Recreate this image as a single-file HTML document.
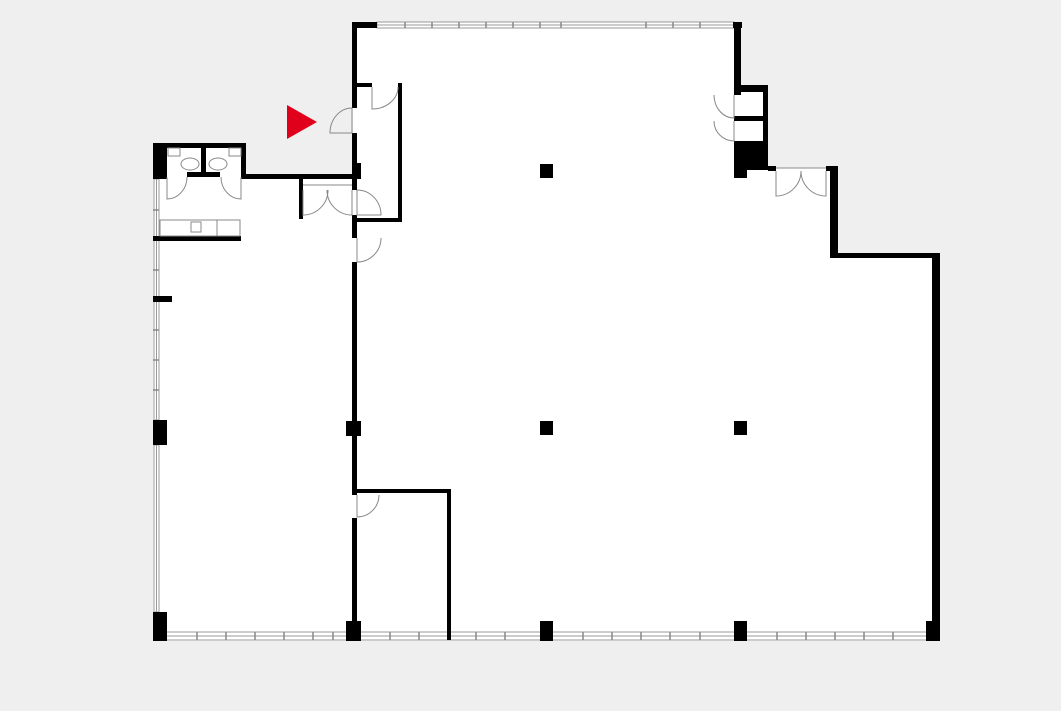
<!DOCTYPE html>
<html><head><style>html,body{margin:0;padding:0;background:#efefef;}svg{display:block}</style></head>
<body>
<svg width="1061" height="711" viewBox="0 0 1061 711" xmlns="http://www.w3.org/2000/svg">
<rect width="1061" height="711" fill="#efefef"/>
<polygon fill="#fff" points="153,143 246,143 246,175 353,175 353,22 741,22 741,85 768,85 768,168 838,168 838,255 940,255 940,641 153,641"/>
<!-- windows -->
<g fill="#fff" stroke="#999" stroke-width="1">
<rect x="377" y="22" width="357" height="6"/>
<rect x="160" y="632" width="770" height="8"/>
<rect x="154" y="179" width="5" height="241"/>
<rect x="154" y="445" width="5" height="167"/>
</g>
<g stroke="#999" stroke-width="1">
<line x1="377" y1="25" x2="734" y2="25"/>
<line x1="160" y1="636" x2="930" y2="636"/>
<line x1="156.5" y1="179" x2="156.5" y2="612"/>
</g>
<g stroke="#888" stroke-width="1.5">
<path d="M405 22v6M432 22v6M459 22v6M486 22v6M513 22v6M540 22v6M561 22v6M646 22v6M673 22v6M700 22v6"/>
<path d="M197 632v8M226 632v8M255 632v8M284 632v8M313 632v8M333 632v8M390 632v8M419 632v8M476 632v8M505 632v8M583 632v8M612 632v8M641 632v8M670 632v8M700 632v8M777 632v8M806 632v8M835 632v8M864 632v8M893 632v8"/>
<path d="M153 210h6M153 240h6M153 270h6M153 330h6M153 360h6M153 390h6"/>
</g>
<g fill="#000">
<rect x="352" y="22" width="25" height="6"/>
<rect x="733" y="22" width="9" height="6"/>
<rect x="352" y="22" width="5" height="86"/>
<rect x="352" y="133" width="5" height="57"/>
<rect x="352" y="215" width="5" height="23"/>
<rect x="352" y="262" width="5" height="233"/>
<rect x="352" y="518" width="5" height="122"/>
<rect x="357" y="83" width="15" height="4"/>
<rect x="398" y="83" width="4" height="139"/>
<rect x="357" y="218" width="45" height="4"/>
<rect x="355" y="163" width="6" height="16"/>
<rect x="246" y="174" width="114" height="5"/>
<rect x="299" y="174" width="4" height="45"/>
<rect x="153" y="143" width="14" height="36"/>
<rect x="153" y="143" width="93" height="5"/>
<rect x="241" y="143" width="5" height="36"/>
<rect x="201" y="148" width="5" height="25"/>
<rect x="187" y="172" width="33" height="5"/>
<rect x="153" y="236" width="88" height="5"/>
<rect x="153" y="296" width="19" height="6"/>
<rect x="734" y="22" width="7" height="73"/>
<rect x="734" y="85" width="34" height="7"/>
<rect x="763" y="85" width="5" height="85"/>
<rect x="734" y="116" width="34" height="5"/>
<rect x="734" y="141" width="34" height="29"/>
<rect x="734" y="141" width="13" height="37"/>
<rect x="768" y="166" width="8" height="5"/>
<rect x="826" y="166" width="12" height="5"/>
<rect x="830" y="166" width="8" height="92"/>
<rect x="830" y="253" width="110" height="5"/>
<rect x="932" y="253" width="8" height="388"/>
<rect x="357" y="489" width="94" height="4"/>
<rect x="447" y="489" width="4" height="151"/>
<rect x="540" y="164" width="13" height="14"/>
<rect x="540" y="421" width="13" height="14"/>
<rect x="734" y="421" width="13" height="14"/>
<rect x="346" y="421" width="15" height="15"/>
<rect x="153" y="420" width="14" height="25"/>
<rect x="153" y="612" width="14" height="29"/>
<rect x="346" y="621" width="15" height="20"/>
<rect x="540" y="621" width="13" height="20"/>
<rect x="734" y="621" width="13" height="20"/>
<rect x="926" y="621" width="14" height="20"/>
</g>
<g fill="none" stroke="#888" stroke-width="1">
<path d="M352 133h-22a22 25 0 0 1 22 -25z"/>
<path d="M372 87v22a26 22 0 0 0 26 -22"/>
<path d="M357 190v25h24a24 25 0 0 0 -24 -25"/>
<path d="M357 238v24a24 24 0 0 0 24 -24"/>
<path d="M357 495v22a22 22 0 0 0 22 -22"/>
<path d="M303 190v25a25 25 0 0 0 25 -25M352 190v25a25 25 0 0 1 -25 -25M303 185h49"/>
<path d="M167 177v22a20 22 0 0 0 20 -22M241 177v22a-20 22 0 0 1 -20 -22"/>
<path d="M734 95v23a-20 23 0 0 1 -20 -23M734 121v20a-20 20 0 0 1 -20 -20"/>
<path d="M776 171v25a25 25 0 0 0 25 -25M826 171v25a25 25 0 0 1 -25 -25M776 168h50"/>
<rect x="160" y="220" width="80" height="16"/>
<rect x="191" y="222" width="10" height="10"/>
<path d="M217 220v16"/>
<rect x="168" y="148" width="12" height="8"/><rect x="229" y="148" width="12" height="8"/>
<ellipse cx="190" cy="164" rx="9" ry="6"/><ellipse cx="218" cy="164" rx="9" ry="6"/>
</g>
<polygon fill="#e0001b" points="287,105 317,122 287,139"/>
</svg>
</body></html>
